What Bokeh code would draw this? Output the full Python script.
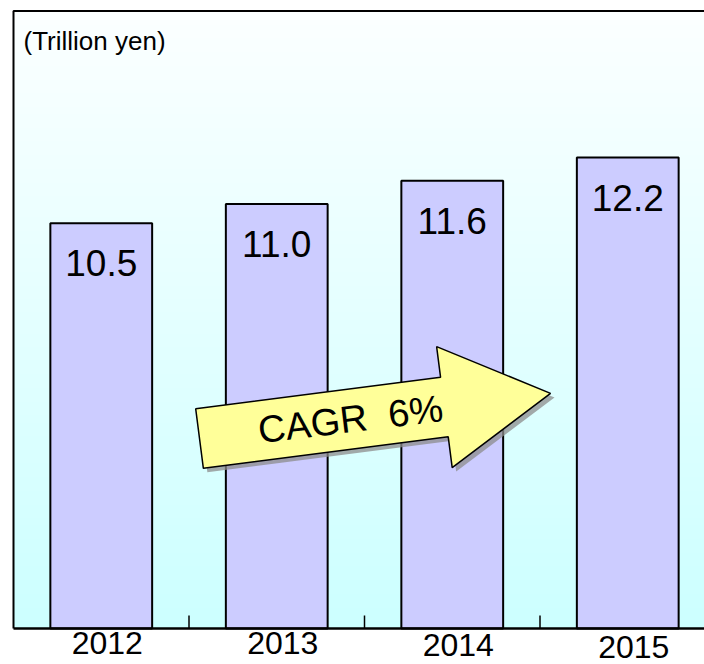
import numpy as np
from bokeh.plotting import figure
from bokeh.models import Range1d
from bokeh.core.properties import value
from bokeh.embed import file_html
from bokeh.resources import INLINE

# ---- data ----
years = ["2012", "2013", "2014", "2015"]
sales = [10.5, 11.0, 11.6, 12.2]
value_labels = ["10.5", "11.0", "11.6", "12.2"]
unit_label = "(Trillion yen)"
cagr_label = "CAGR\u00a0\u00a06%"
boundaries = [1, 2, 3]

# small per-label vertical nudges (px) seen in the reference's year labels
year_label_drop_px = [0, 0, 2, 4]

SANS = "Liberation Sans"

FIG_W, FIG_H = 704, 664
sx = 175.5            # px per category
sy = 38.6             # px per trillion yen
x_start = -13 / sx
x_end = x_start + FIG_W / sx
y_start = -(FIG_H - 628) / sy
y_end = y_start + FIG_H / sy
y_top = 16.0

centers = [i + 0.5 for i in range(len(years))]

p = figure(width=FIG_W, height=FIG_H,
           x_range=Range1d(x_start, x_end), y_range=Range1d(y_start, y_end),
           output_backend="svg", toolbar_location=None,
           x_axis_location=None, y_axis_location=None,
           min_border_left=0, min_border_right=0, min_border_top=0, min_border_bottom=0)
p.outline_line_color = None
p.background_fill_color = "white"
p.border_fill_color = "white"
p.xgrid.visible = False
p.ygrid.visible = False

# ---- gradient background (white at top -> light cyan at bottom) ----
N = 90
bots = np.linspace(0, y_top, N, endpoint=False)
c0 = np.array([204, 255, 255])
c1 = np.array([252, 255, 255])
cols = []
for b in bots:
    t = b / y_top
    c = (c0 * (1 - t) + c1 * t).round().astype(int)
    cols.append("#%02x%02x%02x" % tuple(c))
p.quad(left=0, right=x_end + 1, bottom=bots, top=y_top, fill_color=cols, line_color=None)

# ---- bars ----
p.vbar(x=centers, width=0.58, top=sales, bottom=0,
       fill_color="#CCCCFF", line_color="black", line_width=2)

# value labels inside bars
p.text(x=centers, y=[v - 40 / sy for v in sales], text=value_labels,
       text_align="center", text_baseline="middle",
       text_font=value(SANS), text_font_size="37px", text_color="black")

# unit label
p.text(x=[10 / sx], y=[(628 - 25) / sy], text=[unit_label],
       text_align="left", text_baseline="top",
       text_font=value(SANS), text_font_size="26px", text_color="black")

# ---- arrow ----
tail = (1.06, 4.92)
tip = (3.06, 6.09)
shaft_w, head_w, head_len = 60.0, 122.0, 107.0
d = np.array([(tip[0] - tail[0]) * sx, -(tip[1] - tail[1]) * sy])
L = np.hypot(*d)
u = d / L
n = np.array([-u[1], u[0]])
s = (L - head_len) * u
pts_px = [-n * shaft_w / 2, s - n * shaft_w / 2, s - n * head_w / 2, d,
          s + n * head_w / 2, s + n * shaft_w / 2, n * shaft_w / 2]
ax = [tail[0] + q[0] / sx for q in pts_px]
ay = [tail[1] - q[1] / sy for q in pts_px]
p.patch([a + 4 / sx for a in ax], [b - 4 / sy for b in ay],
        fill_color="#8c8c8c", fill_alpha=0.75, line_color=None)
p.patch(ax, ay, fill_color="#FFFF99", line_color="black", line_width=1.5)

mid_px = d * 0.43
p.text(x=[tail[0] + mid_px[0] / sx], y=[tail[1] - mid_px[1] / sy], text=[cagr_label],
       angle=0.12, text_align="center", text_baseline="middle",
       text_font=value(SANS), text_font_size="38px", text_color="black")

# ---- frame borders (left and top) ----
p.line(x=[0, 0, x_end + 1], y=[0, y_top, y_top], line_color="black", line_width=2)

# ---- x axis: baseline, category separator ticks, year labels ----
p.line(x=[0, x_end + 1], y=[0, 0], line_color="black", line_width=2.5)
p.segment(x0=boundaries, y0=0, x1=boundaries, y1=13 / sy, line_color="black", line_width=1.5)
p.text(x=[c + 6 / sx for c in centers], y=[-(3 + dy) / sy for dy in year_label_drop_px],
       text=years, text_align="center", text_baseline="top",
       text_font=value(SANS), text_font_size="32px", text_color="black")

open("out.html", "w").write(file_html(p, INLINE))
